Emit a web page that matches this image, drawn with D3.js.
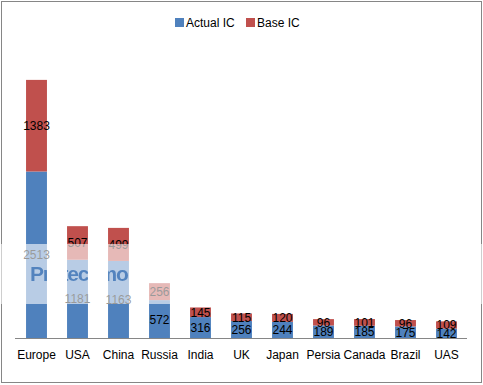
<!DOCTYPE html>
<html lang="en">
<head>
  <meta charset="utf-8">
  <title>Actual IC vs Base IC</title>
  <script src="https://d3js.org/d3.v7.min.js"></script>
  <style>
    body { margin: 0; background: #fff; }
    text { font-family: "Liberation Sans", Arial, sans-serif; }
  </style>
</head>
<body>
<svg id="chart" width="483" height="385"></svg>

<script>
// values
var categories = ["Europe", "USA", "China", "Russia", "India", "UK", "Japan", "Persia", "Canada", "Brazil", "UAS"];
var actualIC = [2513, 1181, 1163, 572, 316, 256, 244, 189, 185, 175, 142];
var baseIC   = [1383, 507, 499, 256, 145, 115, 120, 96, 101, 96, 109];
var seriesNames = ["Actual IC", "Base IC"];
var colors = ["#4F81BD", "#C0504D"];

var svg = d3.select("#chart");

// outer frame
svg.append("rect")
    .attr("x", 1.5).attr("y", 1.5)
    .attr("width", 480).attr("height", 381)
    .attr("fill", "#fff")
    .attr("stroke", "#868686");

var x = d3.scaleBand()
    .domain(categories)
    .range([16, 467])
    .paddingInner(0.49)
    .paddingOuter(0.245);

var y = d3.scaleLinear()
    .domain([0, 4000])
    .range([338, 73]);

// stack the two series
var rows = categories.map(function(c, i) {
    return {cat: c, a: actualIC[i], b: baseIC[i]};
});
var stacked = d3.stack().keys(["a", "b"])(rows);

var layers = svg.append("g").selectAll("g")
    .data(stacked)
    .enter().append("g")
    .attr("fill", function(d, i) { return colors[i]; });

layers.selectAll("rect")
    .data(function(d) { return d; })
    .enter().append("rect")
    .attr("x", function(d) { return x(d.data.cat); })
    .attr("y", function(d) { return y(d[1]); })
    .attr("width", x.bandwidth())
    .attr("height", function(d) { return y(d[0]) - y(d[1]); });

// data labels, centred in each segment
layers.selectAll("text")
    .data(function(d) { return d; })
    .enter().append("text")
    .attr("x", function(d) { return x(d.data.cat) + x.bandwidth() / 2; })
    .attr("y", function(d) { return (y(d[0]) + y(d[1])) / 2 + 4.5; })
    .attr("text-anchor", "middle")
    .attr("font-size", 12)
    .attr("fill", "#000")
    .text(function(d) { return d[1] - d[0]; });

// category axis
var xAxis = svg.append("g")
    .attr("transform", "translate(0,338)")
    .call(d3.axisBottom(x).tickSize(0).tickPadding(12));
xAxis.select(".domain")
    .attr("d", "M15,0.5H467")
    .attr("stroke", "#868686");
xAxis.selectAll("text")
    .attr("font-family", "Liberation Sans, Arial, sans-serif")
    .attr("font-size", 12)
    .attr("fill", "#000");

// legend
var legend = svg.append("g").selectAll("g")
    .data(seriesNames)
    .enter().append("g")
    .attr("transform", function(d, i) { return "translate(" + [175, 246][i] + ",18)"; });
legend.append("rect")
    .attr("width", 9).attr("height", 9)
    .attr("fill", function(d, i) { return colors[i]; });
legend.append("text")
    .attr("x", 11).attr("y", 8.5)
    .attr("font-size", 12)
    .attr("fill", "#000")
    .text(function(d) { return d; });

// hosting watermark: translucent white band with the text cut out of it
var defs = svg.append("defs");
var mask = defs.append("mask").attr("id", "wm");
mask.append("rect")
    .attr("x", 0).attr("y", 244).attr("width", 483).attr("height", 60)
    .attr("fill", "#fff");
mask.append("text")
    .attr("x", 30).attr("y", 281)
    .attr("font-size", 21)
    .attr("font-weight", "bold")
    .attr("letter-spacing", -1.2)
    .attr("fill", "#0a0a0a")
    .text("Protect more of your memories for less!");

svg.append("rect")
    .attr("x", 0).attr("y", 244).attr("width", 483).attr("height", 60)
    .attr("fill", "#fff")
    .attr("fill-opacity", 0.6)
    .attr("mask", "url(#wm)");
</script>
</body>
</html>
